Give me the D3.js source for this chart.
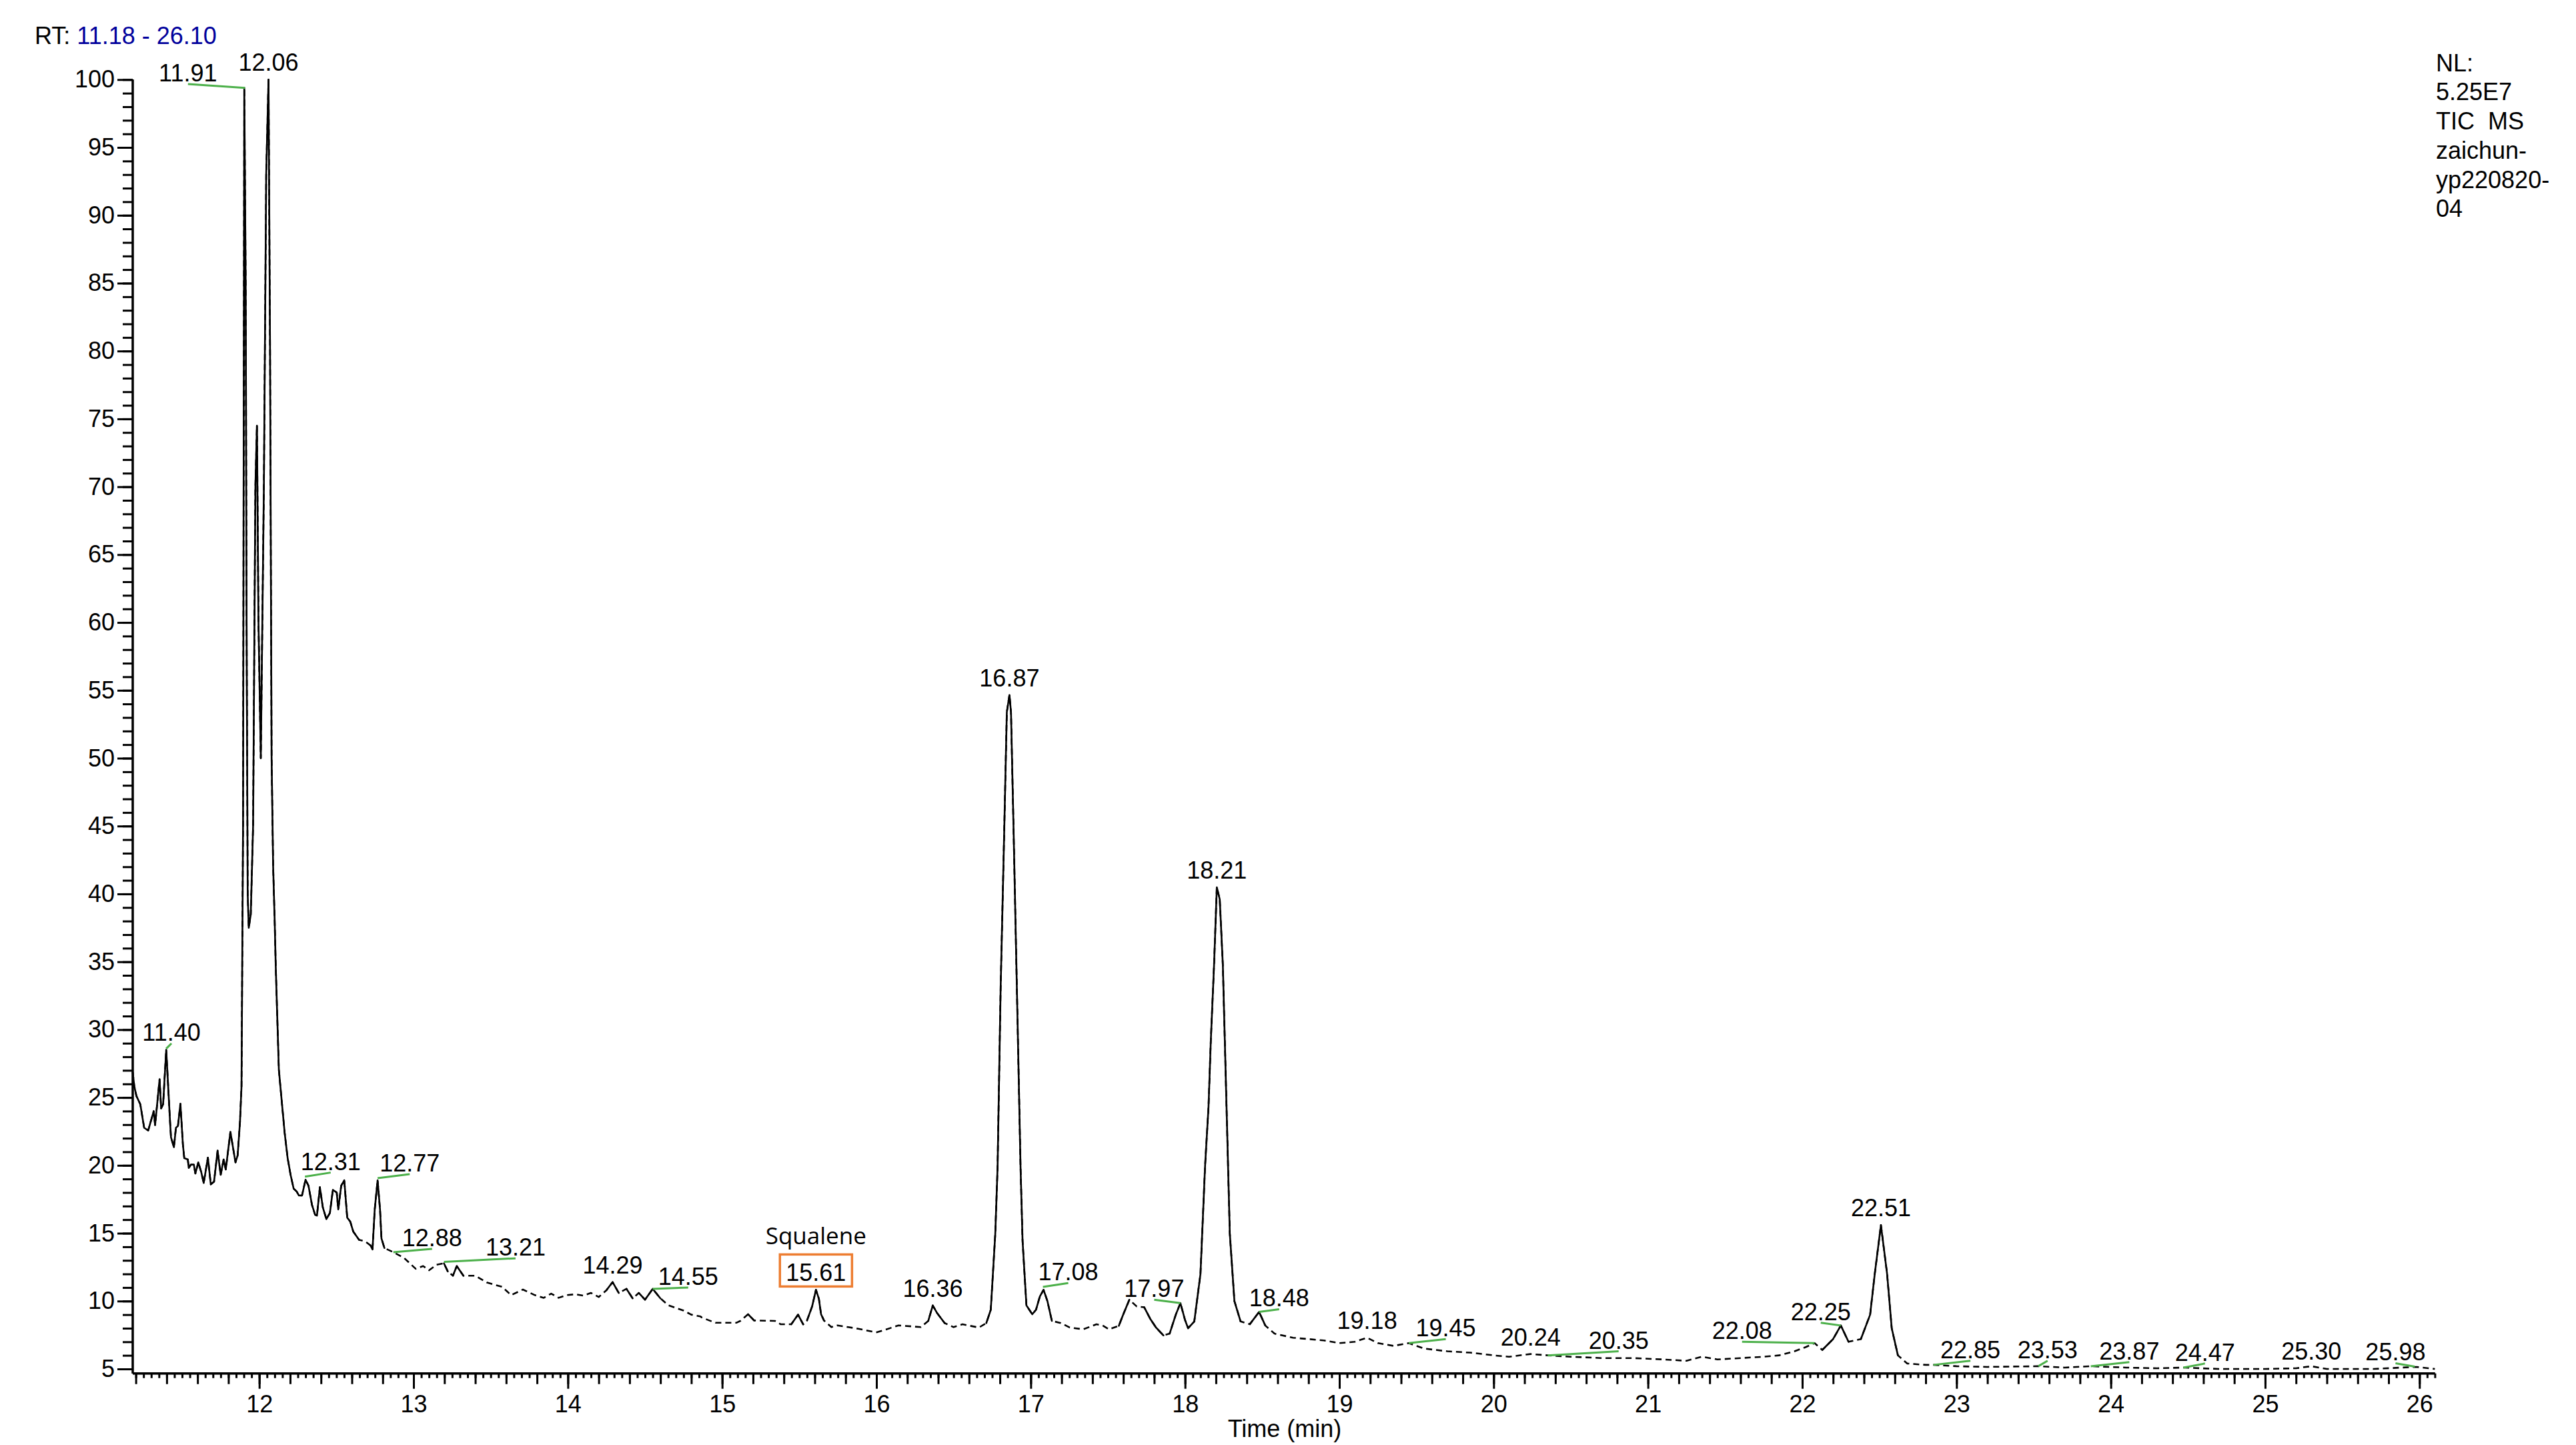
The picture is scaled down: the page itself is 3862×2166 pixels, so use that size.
<!DOCTYPE html>
<html><head><meta charset="utf-8">
<script src="https://cdn.jsdelivr.net/npm/d3@7"></script>
<style>
body{margin:0;background:#fff;}
svg{display:block;}
text{font-family:"Liberation Sans",Arial,sans-serif;}
</style>
</head><body>
<svg id="c" width="3862" height="2166"></svg>
<script>
// ---------------- DATA ----------------
const rtMin = [
11.18,11.19,11.204,11.229,11.254,11.28,11.316,11.325,11.354,11.364,11.377,11.397,11.422,11.428,11.447,11.46,11.473,11.489,11.505,11.514,
11.537,11.543,11.557,11.576,11.586,11.605,11.624,11.64,11.667,11.686,11.707,11.73,11.75,11.769,11.783,11.813,11.846,11.86,11.875,11.885,
11.895,11.903,11.912,11.918,11.925,11.932,11.945,11.96,11.975,11.985,11.995,12.01,12.03,12.045,12.06,12.07,12.08,12.09,12.1,12.107,
12.127,12.145,12.165,12.184,12.203,12.223,12.242,12.257,12.277,12.3,12.319,12.342,12.362,12.374,12.393,12.412,12.435,12.458,12.477,12.502,
12.512,12.531,12.551,12.57,12.59,12.609,12.647,12.686,12.721,12.734,12.748,12.767,12.783,12.792,12.811,12.869,12.937,13.014,13.062,13.101,
13.149,13.197,13.222,13.255,13.28,13.323,13.4,13.477,13.574,13.632,13.709,13.786,13.844,13.892,13.94,13.99,
14.05,14.1,14.15,14.2,14.25,14.29,14.33,14.38,14.42,14.46,14.5,14.55,14.6,14.65,14.7,14.75,14.8,14.859,14.868,14.956,
15.091,15.118,15.168,15.207,15.342,15.38,15.448,15.492,15.525,15.55,15.583,15.608,15.627,15.641,15.66,15.708,15.747,15.882,15.998,16.057,
16.143,16.288,16.336,16.365,16.394,16.442,16.5,16.558,16.664,16.712,16.741,16.77,16.785,16.805,16.828,16.845,16.862,16.872,16.889,16.91,
16.934,16.947,16.972,17.01,17.034,17.059,17.083,17.108,17.137,17.195,17.253,17.34,17.426,17.465,17.507,17.571,17.6,17.639,17.687,17.735,
17.774,17.812,17.86,17.9,17.94,17.97,18.0,18.02,18.06,18.1,18.13,18.152,18.167,18.188,18.206,18.225,18.245,18.269,18.29,18.32,
18.36,18.42,18.48,18.52,18.58,18.7,18.8,18.9,19.0,19.1,19.18,19.25,19.35,19.45,19.55,19.7,19.85,20.0,20.1,20.24,
20.35,20.5,20.7,20.9,21.1,21.25,21.35,21.45,21.6,21.75,21.85,21.95,22.02,22.08,22.13,22.2,22.25,22.3,22.38,22.44,
22.47,22.51,22.55,22.58,22.62,22.68,22.8,22.85,23.0,23.2,23.53,23.7,23.87,24.1,24.3,24.47,24.7,25.0,25.2,25.3,
25.4,25.7,25.98,26.1
];
const intensity = [
26.85,25.83,25.11,24.5,22.77,22.57,23.99,22.97,26.34,24.2,24.5,28.52,23.18,22.06,21.34,22.77,22.9,24.54,21.55,20.53,
20.43,19.81,20.05,20.05,19.4,20.22,19.5,18.7,20.57,18.6,18.8,21.08,19.3,20.43,19.7,22.46,20.22,20.74,23.18,25.83,
45,99.39,85,60,40,37.5,38.5,45,70,74.5,60,50,70,93,100,80,50,42,38,34.6,
27.05,24.81,22.36,20.53,19.3,18.28,18.08,17.78,17.78,18.94,18.5,17.07,16.36,16.3,18.39,16.9,16.04,16.5,18.19,18.0,
16.75,18.5,18.9,16.15,15.85,15.13,14.51,14.4,14.1,13.8,16.7,18.9,16.7,14.62,13.91,13.6,13.19,12.38,12.58,12.27,
12.68,12.78,12.18,11.87,12.58,11.87,11.87,11.36,11.05,10.44,10.85,10.44,10.24,10.55,10.24,10.44,
10.5,10.4,10.6,10.3,10.8,11.4,10.6,10.9,10.2,10.6,10.1,10.9,10.2,9.7,9.5,9.3,9.0,8.87,8.79,8.4,
8.4,8.54,9.03,8.57,8.54,8.29,8.29,9.0,8.29,8.57,9.6,10.83,10.17,9.03,8.57,8.08,8.21,7.96,7.69,7.89,
8.21,8.08,8.54,9.68,9.1,8.38,8.08,8.29,8.05,8.38,9.36,14.93,19.85,33.1,44.58,53.4,54.66,53.4,44.58,33.1,
19.85,14.44,9.68,9.03,9.36,10.34,10.83,10.0,8.54,8.38,8.05,7.92,8.29,8.21,7.92,8.18,9.03,10.1,9.6,9.55,
8.7,8.05,7.47,7.6,9.0,9.85,8.6,8.0,8.5,12,20,24.27,29.18,34.75,40.49,39.59,34.75,24.27,15,10,
8.5,8.3,9.2,8.2,7.6,7.3,7.2,7.1,6.9,7.0,7.3,6.9,6.7,6.9,6.5,6.3,6.2,6.0,5.9,6.1,
6.0,5.9,5.8,5.8,5.7,5.6,5.9,5.7,5.8,5.9,6.0,6.3,6.6,6.9,6.4,7.2,8.2,7.0,7.2,9.0,
12,15.6,12,8,6.0,5.4,5.3,5.3,5.2,5.15,5.2,5.1,5.2,5.1,5.05,5.1,5.0,5.0,5.05,5.2,
5.0,5.0,5.15,5.0
];
// peak labels: text, apex (time, value), label anchor (time, value)
const peakText   = ["11.40","11.91","12.06","12.31","12.77","12.88","13.21","14.29","14.55","15.61","16.36","16.87","17.08","17.97","18.21","18.48","19.18","19.45","20.24","20.35","22.08","22.25","22.51","22.85","23.53","23.87","24.47","25.30","25.98"];
const peakApexT  = [11.397,11.908,12.06,12.296,12.767,12.869,13.197,14.29,14.55,15.608,16.365,16.862,17.079,17.97,18.206,18.48,19.18,19.45,20.24,20.35,22.08,22.25,22.51,22.85,23.53,23.87,24.47,25.30,25.97];
const peakApexV  = [28.6,99.39,100,19.17,19.06,13.6,12.89,11.4,10.9,10.83,9.68,54.66,11.05,9.85,40.49,9.2,7.3,6.9,6.1,6.0,6.9,8.2,15.6,5.3,5.2,5.2,5.1,5.05,5.17];
const peakLabelT = [11.431,11.538,12.06,12.463,12.975,13.12,13.661,14.29,14.78,15.608,16.365,16.862,17.243,17.80,18.206,18.61,19.18,19.69,20.24,20.81,21.61,22.12,22.51,23.09,23.59,24.12,24.61,25.30,25.845];
const peakLabelV = [28.99,99.67,100,19.47,19.35,13.85,13.15,11.4,11.0,10.83,9.68,54.66,11.33,10.1,40.49,9.4,7.3,7.2,6.1,6.3,7.0,8.4,15.6,5.6,5.6,5.5,5.4,5.05,5.42];
const highlightPeak = "15.61";
const highlightName = "Squalene";
const xMajorTicks = d3.range(12, 27, 1);
const yMajorTicks = d3.range(5, 101, 5);
const rtRangeText = "11.18 - 26.10";
const infoLines = ["NL:", "5.25E7", "TIC  MS", "zaichun-", "yp220820-", "04"];
const xTitle = "Time (min)";

// ---------------- LAYOUT ----------------
const svg = d3.select("#c");
const x = d3.scaleLinear().domain([11.18, 26.10]).range([199, 3650.4]);
const y = d3.scaleLinear().domain([4.67, 100]).range([2058.7, 119.3]);
const FS = 36;

// X axis
const gx = svg.append("g").attr("transform", `translate(0,${y(4.67)})`);
const minorX = d3.range(11.2, 26.1001, 0.05).map(d => +d.toFixed(2));
const medX = d3.range(11.2, 26.1001, 0.2).map(d => +d.toFixed(2));
gx.append("g").call(d3.axisBottom(x).tickValues(minorX).tickSize(7).tickSizeOuter(0).tickFormat(""));
gx.append("g").call(d3.axisBottom(x).tickValues(medX).tickSize(16).tickSizeOuter(0).tickFormat(""));
gx.append("g").call(d3.axisBottom(x).tickValues(xMajorTicks).tickSize(23).tickSizeOuter(0).tickPadding(10).tickFormat(d3.format("d")));
gx.selectAll("path.domain").attr("d", `M${x(11.18)},0H${x(26.10)}`);
// Y axis
const gy = svg.append("g").attr("transform", `translate(${x(11.18)},0)`);
gy.append("g").call(d3.axisLeft(y).tickValues(d3.range(5, 101, 1)).tickSize(15).tickSizeOuter(0).tickFormat(""));
gy.append("g").call(d3.axisLeft(y).tickValues(yMajorTicks).tickSize(23).tickSizeOuter(0).tickPadding(4).tickFormat(d3.format("d")));
gy.selectAll("path.domain").attr("d", `M0,${y(100)}V${y(4.67)}`);
svg.selectAll("g.tick line, path.domain").attr("stroke", "#000").attr("stroke-width", 3);
svg.selectAll("g.tick text").attr("font-size", FS).attr("fill", "#000").style("font-family", '"Liberation Sans",Arial,sans-serif');

// Curve
const pts = rtMin.map((t, i) => [x(t), y(intensity[i])]);
svg.append("path").attr("d", d3.line()(pts)).attr("fill", "none").attr("stroke", "#000")
  .attr("stroke-width", 2.6).attr("stroke-dasharray", "9 6").attr("stroke-linejoin", "round");
let solid = "";
for (let i = 0; i < pts.length - 1; i++) {
  const [x1, y1] = pts[i], [x2, y2] = pts[i + 1];
  if (Math.abs(y2 - y1) > Math.abs(x2 - x1) * 1.0 || rtMin[i + 1] <= 12.62) {
    solid += `M${x1},${y1}L${x2},${y2}`;
  }
}
svg.append("path").attr("d", solid).attr("fill", "none").attr("stroke", "#000")
  .attr("stroke-width", 2.6).attr("stroke-linejoin", "round").attr("stroke-linecap", "round");

// Peak labels
const labels = svg.append("g");
peakText.forEach((txt, i) => {
  const ax = x(peakApexT[i]), ay = y(peakApexV[i]);
  const lx = x(peakLabelT[i]), ly = y(peakLabelV[i]);
  const hasLine = (peakApexT[i] !== peakLabelT[i]) || (peakApexV[i] !== peakLabelV[i]);
  if (hasLine) {
    labels.append("line").attr("x1", ax).attr("y1", ay).attr("x2", lx).attr("y2", ly)
      .attr("stroke", "#4cb04a").attr("stroke-width", 3);
  }
  const by = hasLine ? ly - 4 : ay - 13;
  const t = labels.append("text").attr("x", lx).attr("y", by).attr("text-anchor", "middle")
    .attr("font-size", FS).attr("fill", "#000").text(txt);
  if (txt === highlightPeak) {
    const bb = t.node().getBBox();
    labels.append("rect").attr("x", bb.x - 9).attr("y", bb.y - 7).attr("width", bb.width + 18).attr("height", bb.height + 7)
      .attr("fill", "none").attr("stroke", "#ed7d31").attr("stroke-width", 3.5);
    labels.append("text").attr("x", lx).attr("y", by - 55).attr("text-anchor", "middle")
      .style("font-family", '"Open Sans","Noto Sans",sans-serif').attr("font-size", 35).attr("fill", "#000").text(highlightName);
  }
});

// RT header
const rt = svg.append("text").attr("x", 52).attr("y", 66).attr("font-size", FS);
rt.append("tspan").attr("fill", "#000").text("RT:");
rt.append("tspan").attr("fill", "#00009c").attr("dx", 10).text(rtRangeText);

// info block
const info = svg.append("text").attr("font-size", FS).attr("fill", "#000").attr("xml:space", "preserve").style("white-space", "pre");
infoLines.forEach((s, i) => info.append("tspan").attr("x", 3652).attr("y", 106.7 + i * 43.7).text(s));

// x title
svg.append("text").attr("x", 1926).attr("y", 2154).attr("text-anchor", "middle").attr("font-size", FS).attr("fill", "#000").text(xTitle);
</script>
</body></html>
